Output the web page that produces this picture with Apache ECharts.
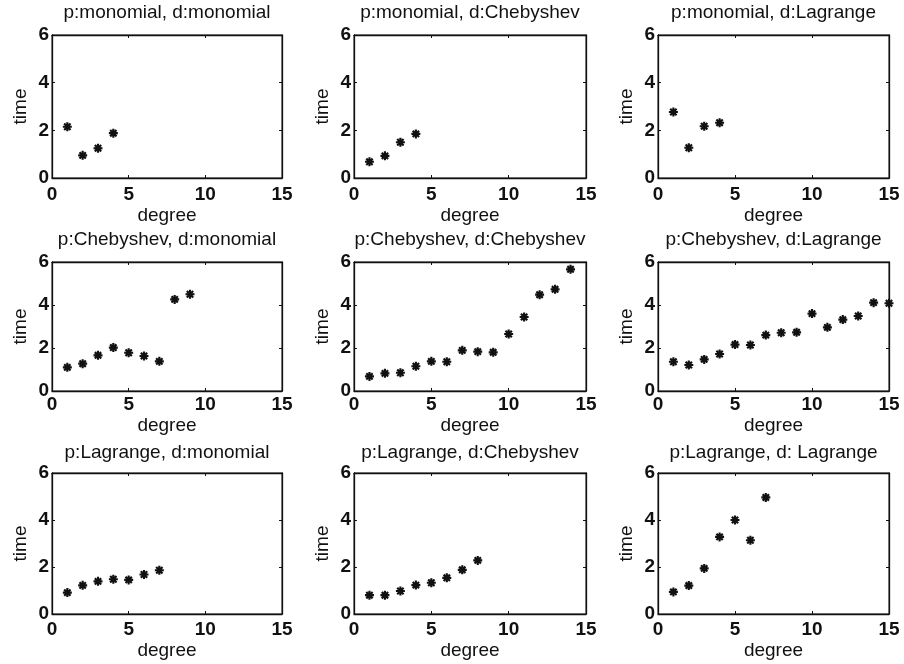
<!DOCTYPE html>
<html>
<head>
<meta charset="utf-8">
<script src="https://cdn.jsdelivr.net/npm/echarts@6/dist/echarts.min.js"></script>
<style>
  html, body { margin: 0; padding: 0; background: #fff; }
  #chart { width: 904px; height: 664px; }
</style>
</head>
<body>
<div id="chart"></div>
<script>
// Timing results: polynomial basis p vs. differentiation basis d
const degrees = [1, 2, 3, 4, 5, 6, 7, 8, 9, 10, 11, 12, 13, 14, 15];
const xTicks = [0, 5, 10, 15];
const yTicks = [0, 2, 4, 6];

const titles = [
  'p:monomial, d:monomial', 'p:monomial, d:Chebyshev', 'p:monomial, d:Lagrange',
  'p:Chebyshev, d:monomial', 'p:Chebyshev, d:Chebyshev', 'p:Chebyshev, d:Lagrange',
  'p:Lagrange, d:monomial', 'p:Lagrange, d:Chebyshev', 'p:Lagrange, d: Lagrange'
];

const timeMonoMono = [2.15, 0.95, 1.25, 1.88];
const timeMonoCheb = [0.68, 0.93, 1.50, 1.85];
const timeMonoLagr = [2.77, 1.27, 2.17, 2.32];
const timeChebMono = [1.10, 1.27, 1.66, 2.02, 1.78, 1.63, 1.38, 4.26, 4.50];
const timeChebCheb = [0.68, 0.82, 0.85, 1.15, 1.38, 1.36, 1.89, 1.83, 1.80, 2.65, 3.44, 4.48, 4.73, 5.66];
const timeChebLagr = [1.36, 1.21, 1.47, 1.72, 2.16, 2.14, 2.60, 2.71, 2.73, 3.60, 2.96, 3.32, 3.49, 4.11, 4.08];
const timeLagrMono = [0.91, 1.22, 1.39, 1.48, 1.45, 1.68, 1.86];
const timeLagrCheb = [0.80, 0.80, 0.98, 1.23, 1.33, 1.54, 1.88, 2.28];
const timeLagrLagr = [0.94, 1.21, 1.94, 3.28, 4.00, 3.14, 4.96];

const panelTimes = [
  timeMonoMono, timeMonoCheb, timeMonoLagr,
  timeChebMono, timeChebCheb, timeChebLagr,
  timeLagrMono, timeLagrCheb, timeLagrLagr
];

// Panel layout (pixels)
const cols = [{ left: 52, width: 230 }, { left: 354, width: 232 }, { left: 658, width: 231 }];
const rows = [
  { top: 35, height: 143, titleTop: 3, tickGap: 7, nameGap: 27 },
  { top: 262, height: 129, titleTop: 230, tickGap: 4, nameGap: 18 },
  { top: 473, height: 141, titleTop: 443, tickGap: 6, nameGap: 26 }
];

const FONT = 'Liberation Sans, Arial, Helvetica, sans-serif';
const INK = '#111';

// Asterisk marker built from four thick bars
function asteriskPath() {
  const r = 10, w = 2.4;
  let d = '';
  for (let k = 0; k < 4; k++) {
    const a = k * Math.PI / 4;
    const c = Math.cos(a), s = Math.sin(a);
    const px = -s * w, py = c * w;
    const pts = [
      [r * c + px, r * s + py], [r * c - px, r * s - py],
      [-r * c - px, -r * s - py], [-r * c + px, -r * s + py]
    ];
    d += 'M' + pts.map(p => p[0].toFixed(2) + ' ' + p[1].toFixed(2)).join('L') + 'Z';
  }
  return 'path://' + d;
}
const marker = asteriskPath();

const grid = [], xAxis = [], yAxis = [], series = [], title = [];

panelTimes.forEach((vals, i) => {
  const c = cols[i % 3], r = rows[Math.floor(i / 3)];
  grid.push({
    left: c.left, top: r.top, width: c.width, height: r.height,
    containLabel: false, outerBoundsMode: 'none',
    show: true, borderColor: INK, borderWidth: 1, backgroundColor: '#fff'
  });
  title.push({
    text: titles[i],
    left: c.left + c.width / 2, top: r.titleTop, textAlign: 'center', padding: 0,
    textStyle: { fontFamily: FONT, fontSize: 19, fontWeight: 'normal', color: INK, lineHeight: 20 }
  });
  const tick = { show: true, inside: true, length: 3, lineStyle: { color: INK, width: 1 } };
  const line = { show: true, onZero: false, lineStyle: { color: INK, width: 1.3 } };
  // bottom / left axes with labels
  xAxis.push({
    gridIndex: i, type: 'value', min: xTicks[0], max: xTicks[xTicks.length - 1], interval: xTicks[1] - xTicks[0],
    position: 'bottom', axisLine: line, axisTick: tick, splitLine: { show: false },
    axisLabel: { margin: r.tickGap, fontFamily: FONT, fontSize: 19, fontWeight: 'bold', color: INK, lineHeight: 20 },
    name: 'degree', nameLocation: 'middle', nameGap: r.nameGap,
    nameTextStyle: { fontFamily: FONT, fontSize: 19, color: INK, lineHeight: 20 }
  });
  yAxis.push({
    gridIndex: i, type: 'value', min: yTicks[0], max: yTicks[yTicks.length - 1], interval: yTicks[1] - yTicks[0],
    position: 'left', axisLine: line, axisTick: tick, splitLine: { show: false },
    axisLabel: { margin: 3, fontFamily: FONT, fontSize: 19, fontWeight: 'bold', color: INK },
    name: 'time', nameLocation: 'middle', nameGap: 21,
    nameTextStyle: { fontFamily: FONT, fontSize: 19, color: INK, lineHeight: 20 }
  });
  // mirrored top / right axes carrying ticks only
  xAxis.push({
    gridIndex: i, type: 'value', min: xTicks[0], max: xTicks[xTicks.length - 1], interval: xTicks[1] - xTicks[0],
    position: 'top', axisLine: line, axisTick: tick, axisLabel: { show: false }, splitLine: { show: false }
  });
  yAxis.push({
    gridIndex: i, type: 'value', min: yTicks[0], max: yTicks[yTicks.length - 1], interval: yTicks[1] - yTicks[0],
    position: 'right', axisLine: line, axisTick: tick, axisLabel: { show: false }, splitLine: { show: false }
  });
  series.push({
    type: 'scatter', xAxisIndex: 2 * i, yAxisIndex: 2 * i,
    data: vals.map((v, k) => [degrees[k], v]),
    symbol: marker, symbolSize: 9,
    itemStyle: { color: INK, opacity: 1 },
    emphasis: { disabled: true }, silent: true
  });
});

const chart = echarts.init(document.getElementById('chart'), null, { renderer: 'canvas' });
chart.setOption({
  backgroundColor: '#fff',
  animation: false,
  title, grid, xAxis, yAxis, series
});
</script>
</body>
</html>
